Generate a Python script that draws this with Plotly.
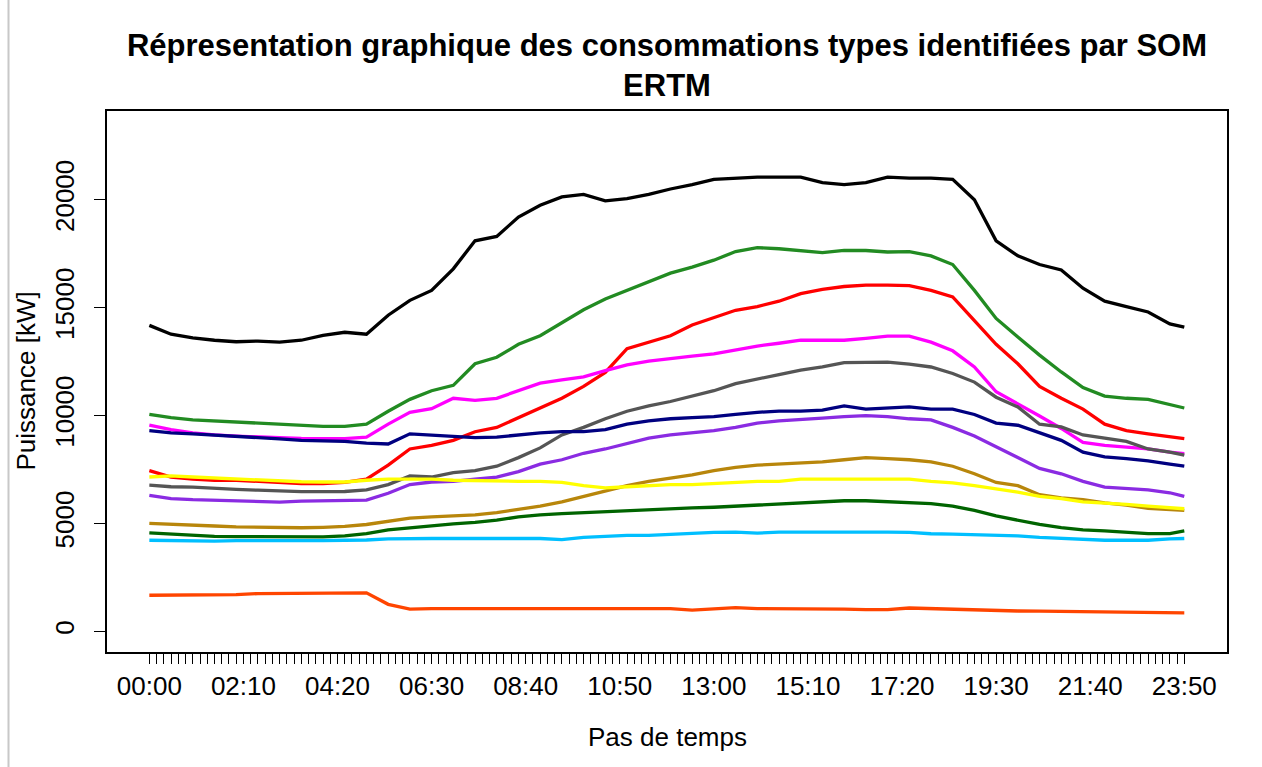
import plotly.graph_objects as go

# Sampling instants (every 30 min, plus the last 10-min step of the day)
times = ["00:00", "00:30", "01:00", "01:30", "02:00", "02:30", "03:00", "03:30",
         "04:00", "04:30", "05:00", "05:30", "06:00", "06:30", "07:00", "07:30",
         "08:00", "08:30", "09:00", "09:30", "10:00", "10:30", "11:00", "11:30",
         "12:00", "12:30", "13:00", "13:30", "14:00", "14:30", "15:00", "15:30",
         "16:00", "16:30", "17:00", "17:30", "18:00", "18:30", "19:00", "19:30",
         "20:00", "20:30", "21:00", "21:30", "22:00", "22:30", "23:00", "23:30",
         "23:50"]

# Typical load profiles (kW), one list per SOM prototype
black = [14180, 13770, 13600, 13490, 13420, 13450, 13400, 13490, 13720, 13860,
         13770, 14650, 15340, 15800, 16800, 18100, 18300, 19200, 19750, 20130,
         20250, 19950, 20050, 20250, 20500, 20700, 20950, 21000, 21050, 21050,
         21050, 20800, 20700, 20800, 21050, 21000, 21000, 20950, 20000, 18100,
         17400, 17000, 16750, 15900, 15300, 15050, 14800, 14250, 14100]
green = [10050, 9900, 9800, 9750, 9700, 9650, 9600, 9550, 9500, 9500,
         9600, 10200, 10750, 11150, 11400, 12400, 12700, 13300, 13700, 14300,
         14900, 15400, 15800, 16200, 16600, 16880, 17200, 17600, 17780, 17730,
         17650, 17550, 17650, 17650, 17580, 17600, 17400, 17000, 15800, 14500,
         13640, 12800, 12020, 11300, 10900, 10800, 10750, 10500, 10350]
red = [7450, 7150, 7050, 7000, 7000, 6950, 6900, 6850, 6850, 6900,
       7050, 7700, 8450, 8620, 8850, 9250, 9450, 9900, 10350, 10800,
       11350, 12000, 13100, 13400, 13700, 14200, 14550, 14880, 15050, 15300,
       15650, 15850, 15980, 16040, 16040, 16020, 15800, 15500, 14400, 13300,
       12400, 11350, 10800, 10300, 9600, 9300, 9150, 9000, 8930]
magenta = [9550, 9350, 9200, 9100, 9050, 9000, 8970, 8940, 8920, 8930,
           9000, 9600, 10150, 10320, 10800, 10700, 10800, 11150, 11500, 11650,
           11790, 12080, 12350, 12520, 12650, 12750, 12860, 13050, 13220, 13350,
           13490, 13490, 13490, 13580, 13680, 13680, 13400, 13000, 12250, 11100,
           10550, 9980, 9400, 8750, 8620, 8550, 8450, 8300, 8230]
gray = [6770, 6700, 6680, 6620, 6580, 6540, 6500, 6470, 6470, 6480,
        6550, 6800, 7200, 7150, 7350, 7450, 7650, 8050, 8500, 9100,
        9450, 9850, 10200, 10450, 10650, 10900, 11150, 11480, 11700, 11900,
        12100, 12250, 12450, 12480, 12480, 12380, 12250, 11950, 11550, 10850,
        10400, 9600, 9470, 9100, 8950, 8800, 8450, 8300, 8160]
navy = [9300, 9200, 9150, 9100, 9050, 8980, 8920, 8850, 8820, 8800,
        8720, 8680, 9150, 9100, 9050, 8980, 9000, 9100, 9200, 9250,
        9250, 9350, 9600, 9750, 9850, 9900, 9950, 10050, 10150, 10200,
        10200, 10250, 10450, 10300, 10350, 10400, 10300, 10300, 10050, 9650,
        9550, 9200, 8850, 8300, 8080, 8000, 7900, 7750, 7650]
purple = [6300, 6150, 6100, 6080, 6060, 6020, 5990, 6030, 6040, 6060,
          6080, 6400, 6800, 6920, 6950, 7050, 7150, 7400, 7750, 7950,
          8250, 8450, 8700, 8950, 9100, 9200, 9300, 9450, 9650, 9750,
          9800, 9880, 9950, 10000, 9950, 9850, 9800, 9450, 9050, 8550,
          8050, 7550, 7300, 6950, 6680, 6620, 6550, 6420, 6250]
golden = [5000, 4950, 4920, 4880, 4840, 4820, 4810, 4800, 4820, 4860,
          4950, 5100, 5250, 5300, 5350, 5400, 5500, 5650, 5800, 6000,
          6250, 6500, 6750, 6950, 7100, 7250, 7450, 7600, 7700, 7750,
          7800, 7850, 7950, 8050, 8000, 7950, 7850, 7650, 7300, 6900,
          6750, 6330, 6180, 6100, 5950, 5850, 5700, 5650, 5600]
yellow = [7150, 7200, 7150, 7100, 7070, 7000, 6970, 6930, 6920, 6920,
          7000, 7050, 7050, 7050, 7000, 6980, 6950, 6950, 6950, 6900,
          6750, 6650, 6700, 6750, 6800, 6800, 6850, 6900, 6950, 6950,
          7050, 7050, 7050, 7050, 7050, 7050, 6950, 6880, 6750, 6600,
          6450, 6250, 6150, 6000, 5950, 5880, 5800, 5720, 5680]
dkgreen = [4560, 4500, 4450, 4400, 4390, 4380, 4370, 4370, 4380, 4420,
           4530, 4700, 4800, 4900, 4980, 5050, 5150, 5300, 5400, 5450,
           5500, 5550, 5600, 5650, 5700, 5720, 5750, 5800, 5850, 5900,
           5950, 6000, 6050, 6050, 6000, 5980, 5920, 5800, 5600, 5350,
           5150, 4950, 4800, 4700, 4650, 4580, 4530, 4530, 4650]
sky = [4220, 4200, 4200, 4180, 4200, 4200, 4180, 4200, 4200, 4220,
       4230, 4280, 4300, 4300, 4300, 4300, 4300, 4330, 4300, 4250,
       4350, 4400, 4450, 4450, 4500, 4520, 4580, 4600, 4550, 4600,
       4600, 4620, 4600, 4600, 4600, 4580, 4520, 4500, 4480, 4450,
       4420, 4350, 4300, 4250, 4220, 4220, 4220, 4280, 4300]
orange = [1670, 1670, 1680, 1680, 1700, 1750, 1750, 1760, 1760, 1770,
          1780, 1250, 1030, 1050, 1050, 1050, 1050, 1050, 1050, 1050,
          1050, 1050, 1050, 1050, 1050, 980, 1050, 1100, 1050, 1050,
          1050, 1050, 1030, 1000, 1000, 1080, 1050, 1000, 980, 960,
          940, 930, 920, 900, 890, 880, 870, 860, 850]

series = [
    (black, "#000000"), (green, "#228B22"), (red, "#FF0000"),
    (magenta, "#FF00FF"), (gray, "#555555"), (navy, "#000080"),
    (purple, "#8A2BE2"), (golden, "#B8860B"), (dkgreen, "#006400"),
    (sky, "#00BFFF"), (yellow, "#FFFF00"), (orange, "#FF4500"),
]

def step_index(hhmm):
    h, m = hhmm.split(":")
    return (int(h) * 60 + int(m)) // 10

x = [step_index(t) for t in times]

# Full 10-minute axis: a tick at every step, labels every 13 steps
all_steps = list(range(144))
all_labels = ["%02d:%02d" % (s * 10 // 60, s * 10 % 60) for s in all_steps]
tick_text = [lab if s % 13 == 0 else "" for s, lab in zip(all_steps, all_labels)]

fig = go.Figure()
for values, color in series:
    fig.add_trace(go.Scatter(x=x, y=values, mode="lines",
                             line=dict(color=color, width=3.3),
                             showlegend=False, hoverinfo="skip"))

FONT = "Liberation Sans, Arial, sans-serif"

fig.update_layout(
    width=1262, height=767,
    margin=dict(l=107, r=35, t=111, b=115),
    paper_bgcolor="white", plot_bgcolor="white",
    font=dict(family=FONT, size=26, color="black"),
    title=dict(
        text="Répresentation graphique des consommations types identifiées par SOM<br>ERTM",
        x=0.5, xref="paper", xanchor="center",
        y=1 - 56 / 767, yref="container", yanchor="middle",
        font=dict(family=FONT, size=31, color="black", weight="bold"),
    ),
    xaxis=dict(
        range=[-5.85, 148.9], tickmode="array", tickvals=all_steps, ticktext=tick_text,
        ticks="outside", ticklen=10, tickwidth=1.3, tickcolor="black",
        showline=True, mirror=True, linecolor="black", linewidth=1.6,
        showgrid=False, zeroline=False, automargin=False,
        tickfont=dict(size=26), tickangle=0,
    ),
    yaxis=dict(
        range=[-960, 24115], tickmode="array",
        tickvals=[0, 5000, 10000, 15000, 20000],
        ticktext=["0", "5000", "10000", "15000", "20000"],
        ticks="outside", ticklen=11, tickwidth=1.3, tickcolor="black",
        showline=True, mirror=True, linecolor="black", linewidth=1.6,
        showgrid=False, zeroline=False, automargin=False,
        tickfont=dict(size=26), tickangle=-90, ticklabelstandoff=10,
    ),
    shapes=[
        # thin grey frame edge along the left side of the page
        dict(type="line", xref="paper", yref="paper",
             x0=(8.5 - 107) / 1120, x1=(8.5 - 107) / 1120,
             y0=(652 - 767) / 541, y1=(652 - 0) / 541,
             line=dict(color="#c8c8c8", width=2)),
    ],
    annotations=[
        dict(text="Pas de temps", xref="paper", yref="paper", x=0.5, y=0,
             xanchor="center", yanchor="middle", yshift=-85, showarrow=False,
             font=dict(family=FONT, size=26, color="black")),
        dict(text="Puissance [kW]", xref="paper", yref="paper", x=0, y=0.5,
             xanchor="center", yanchor="middle", xshift=-82, textangle=-90,
             showarrow=False, font=dict(family=FONT, size=26, color="black")),
    ],
)

fig.write_html("out.html")
